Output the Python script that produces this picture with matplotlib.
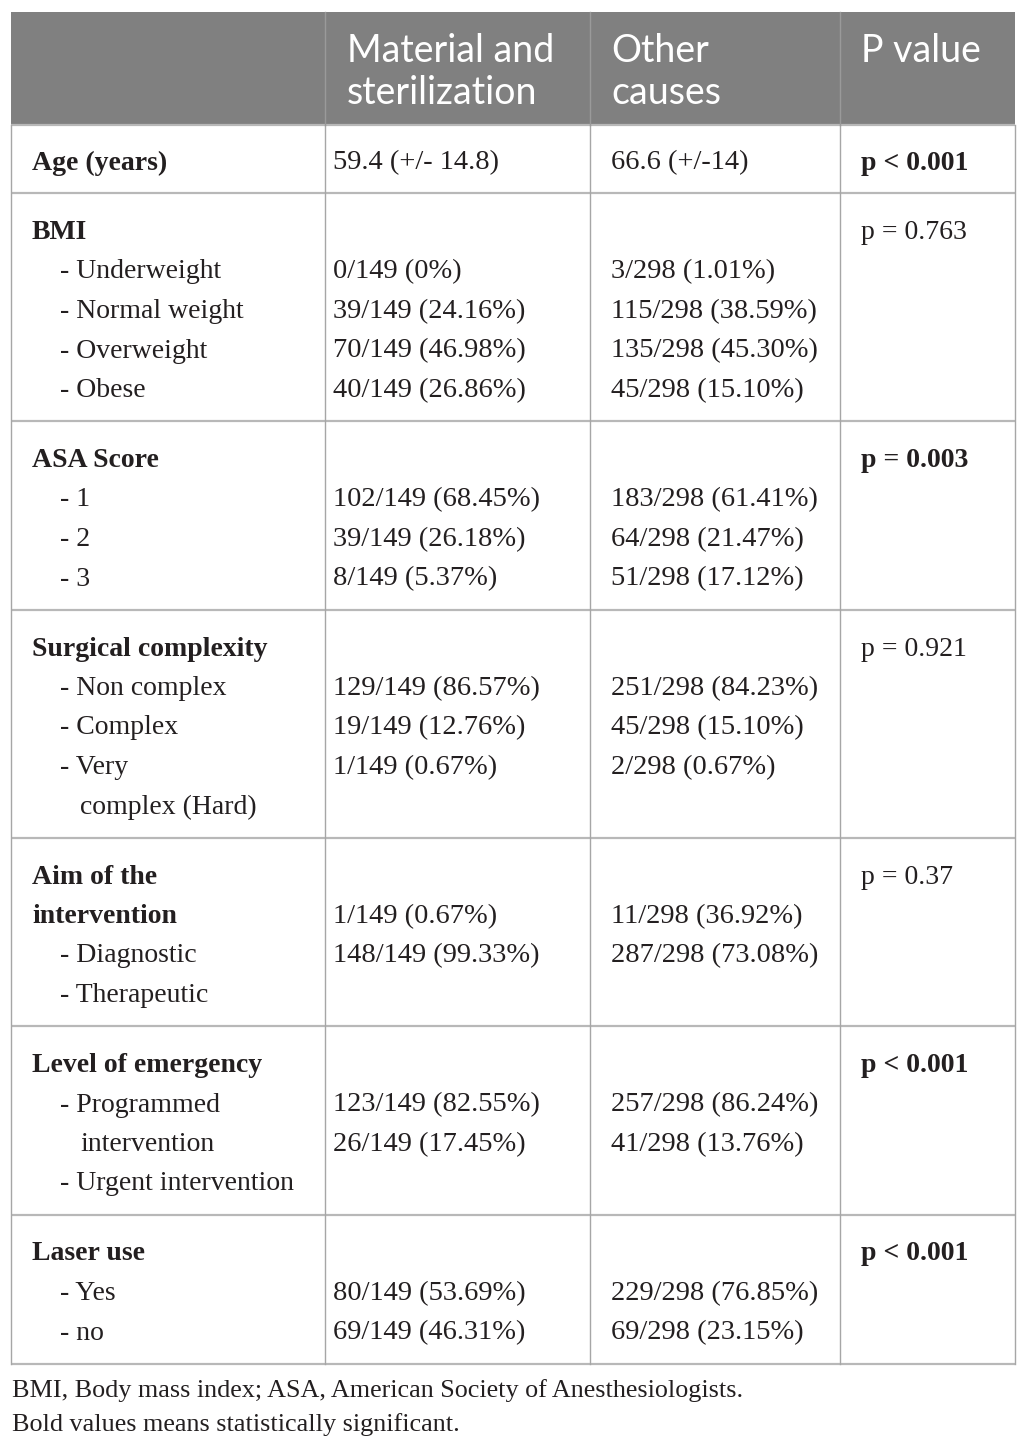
import matplotlib
matplotlib.use("Agg")
import matplotlib.pyplot as plt

# ---- data ----
header = ["", ["Material and", "sterilization"], ["Other", "causes"], ["P value"]]

age_row = ["Age (years)", "59.4 (+/- 14.8)", "66.6 (+/-14)", "p < 0.001"]

sections = [
    # (title lines, sub-label lines, col2 lines, col3 lines, p value, bold p)
    (["BMI"],
     ["- Underweight", "- Normal weight", "- Overweight", "- Obese"],
     ["0/149 (0%)", "39/149 (24.16%)", "70/149 (46.98%)", "40/149 (26.86%)"],
     ["3/298 (1.01%)", "115/298 (38.59%)", "135/298 (45.30%)", "45/298 (15.10%)"],
     "p = 0.763", False),
    (["ASA Score"],
     ["- 1", "- 2", "- 3"],
     ["102/149 (68.45%)", "39/149 (26.18%)", "8/149 (5.37%)"],
     ["183/298 (61.41%)", "64/298 (21.47%)", "51/298 (17.12%)"],
     "p = 0.003", True),
    (["Surgical complexity"],
     ["- Non complex", "- Complex", "- Very", "   complex (Hard)"],
     ["129/149 (86.57%)", "19/149 (12.76%)", "1/149 (0.67%)"],
     ["251/298 (84.23%)", "45/298 (15.10%)", "2/298 (0.67%)"],
     "p = 0.921", False),
    (["Aim of the", "intervention"],
     ["- Diagnostic", "- Therapeutic"],
     ["1/149 (0.67%)", "148/149 (99.33%)"],
     ["11/298 (36.92%)", "287/298 (73.08%)"],
     "p = 0.37", False),
    (["Level of emergency"],
     ["- Programmed", "   intervention", "- Urgent intervention"],
     ["123/149 (82.55%)", "26/149 (17.45%)"],
     ["257/298 (86.24%)", "41/298 (13.76%)"],
     "p < 0.001", True),
    (["Laser use"],
     ["- Yes", "- no"],
     ["80/149 (53.69%)", "69/149 (46.31%)"],
     ["229/298 (76.85%)", "69/298 (23.15%)"],
     "p < 0.001", True),
]

footnotes = ["BMI, Body mass index; ASA, American Society of Anesthesiologists.",
             "Bold values means statistically significant."]

# ---- layout ----
W, H = 1025, 1451
fig = plt.figure(figsize=(W / 100, H / 100), dpi=100)
ax = fig.add_axes([0, 0, 1, 1])
ax.set_xlim(0, W)
ax.set_ylim(H, 0)
ax.axis("off")

left, right = 11, 1015
col_x = [11, 325, 590, 840, 1015]
text_x = [32, 333, 611, 861]
sub_x = 60
top, head_bot = 12, 125
line_h = 39.5
serif = "Liberation Serif"
fs = 20
fsn = 20.5
tc = "#231f20"
vcol = "#a6a6a6"
hcol = "#b8b8b8"
dy = 3  # vertical text offset

ax.add_patch(plt.Rectangle((left, top), right - left, head_bot - top,
                           facecolor="#808080", edgecolor="none", zorder=1))
hx = [0, 347, 611, 861]
for i in range(1, 4):
    for k, t in enumerate(header[i]):
        ax.text(hx[i], 51 + k * 42, t, fontsize=27, family="Lato", color="white",
                va="center", ha="left")

# Age row
y = 160
ax.text(text_x[0], y + dy, age_row[0], fontsize=fs, family=serif, fontweight="bold",
        color=tc, va="center")
ax.text(text_x[1], y + dy, age_row[1], fontsize=fsn, family=serif, color=tc, va="center")
ax.text(text_x[2], y + dy, age_row[2], fontsize=fsn, family=serif, color=tc, va="center")
ax.text(text_x[3], y + dy, age_row[3], fontsize=fs, family=serif, fontweight="bold",
        color=tc, va="center")

hlines = [head_bot, 193]
y0 = 193
for title, subs, c2, c3, p, pb in sections:
    yy = y0 + 36.5
    for k, t in enumerate(title):
        ax.text(text_x[0], yy + k * line_h + dy, t, fontsize=fs, family=serif,
                fontweight="bold", color=tc, va="center")
    ax.text(text_x[3], yy + dy, p, fontsize=fs, family=serif,
            fontweight="bold" if pb else "normal", color=tc, va="center")
    ys = yy + len(title) * line_h
    for k, t in enumerate(subs):
        xx = sub_x if not t.startswith("   ") else sub_x + 20
        ax.text(xx, ys + k * line_h + dy, t.strip(), fontsize=fs, family=serif,
                color=tc, va="center")
    yv = yy + line_h
    for k, t in enumerate(c2):
        ax.text(text_x[1], yv + k * line_h + dy, t, fontsize=fsn, family=serif,
                color=tc, va="center")
    for k, t in enumerate(c3):
        ax.text(text_x[2], yv + k * line_h + dy, t, fontsize=fsn, family=serif,
                color=tc, va="center")
    nlines = len(title) + len(subs)
    y_end = yy + (nlines - 1) * line_h + 33.5
    hlines.append(y_end)
    y0 = y_end

bottom = hlines[-1]
for yh in hlines:
    ax.plot([left, right], [yh, yh], color=hcol, lw=1.6, solid_capstyle="butt", zorder=2)
for xv in col_x:
    ax.plot([xv, xv], [head_bot, bottom], color=vcol, lw=1.0, zorder=2)
for xv in col_x[1:-1]:
    ax.plot([xv, xv], [top, head_bot], color="#9a9a9a", lw=1.0, zorder=2)

for k, t in enumerate(footnotes):
    ax.text(12, 1391 + k * 34, t, fontsize=18.8, family=serif, color=tc, va="center")

fig.savefig("out.png", dpi=100)
